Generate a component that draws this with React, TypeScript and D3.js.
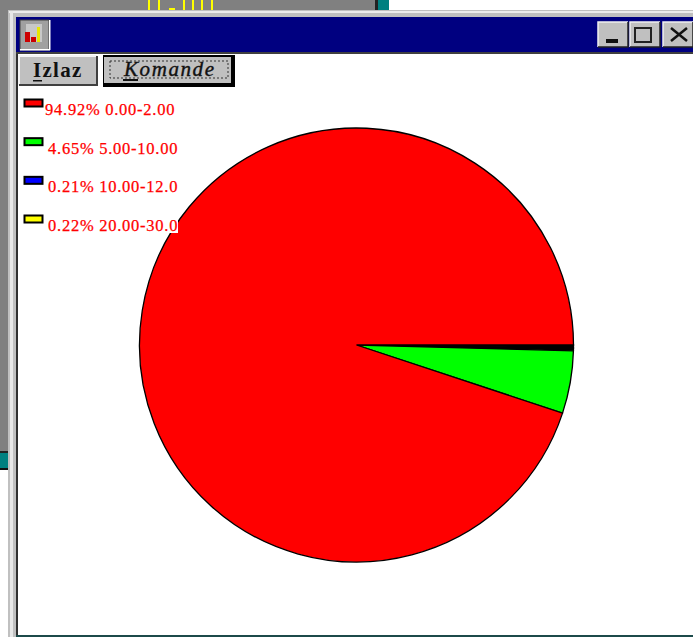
import React from "react";
import * as d3 from "d3";

const labels = ["94.92% 0.00-2.00", "4.65% 5.00-10.00", "0.21% 10.00-12.0", "0.22% 20.00-30.0"];
const shares = [94.92, 4.65, 0.21, 0.22];
const colors = ["#ff0000", "#00ff00", "#0000ff", "#ffff00"];
// The two thinnest slices are nothing but outline in the picture.
const sliceFills = ["#ff0000", "#00ff00", "#000000", "#000000"];
const legendTextX = [45, 48, 48, 48];
const legendRows = [0, 1, 2, 3];
const backgroundStripes = [149, 159, 184, 193, 202, 212];

const W = 693;
const H = 637;
const cx = 356.5;
const cy = 345;
const R = 217;

export default function App() {
  // Clockwise from 3 o'clock: yellow, blue, green, red.
  const total = d3.sum(shares);
  const angle = d3.scaleLinear().domain([0, total]).range([0, 2 * Math.PI]);
  const start = Math.PI / 2;
  const order = [3, 2, 1, 0];
  let acc = 0;
  const slices = order.map((i) => {
    const a0 = acc;
    acc += shares[i];
    return { i, a0: start + angle(a0), a1: start + angle(acc) };
  });
  const arc = d3.arc<any>().innerRadius(0).outerRadius(R);
  const legendY = d3.scaleLinear().domain([0, 3]).range([103, 219]);

  return (
    <svg
      width={W}
      height={H}
      viewBox={`0 0 ${W} ${H}`}
      style={{ position: "fixed", left: 0, top: 0, display: "block", background: "#fff" }}
    >
      {/* desktop behind the window */}
      <rect x={0} y={0} width={375} height={451} fill="#808080" />
      <rect x={375} y={0} width={3} height={12} fill="#222" />
      <rect x={378} y={0} width={11} height={12} fill="#008080" />
      <rect x={0} y={453} width={8} height={15} fill="#008080" />
      <rect x={0} y={451} width={8} height={2} fill="#222" />
      <rect x={0} y={468} width={8} height={2} fill="#111" />
      <g stroke="#ffff00" strokeWidth={2}>
        {backgroundStripes.map((x) => (
          <line key={x} x1={x} x2={x} y1={0} y2={10} />
        ))}
        <line x1={169} x2={175} y1={9} y2={9} />
      </g>

      {/* window frame */}
      <rect x={8} y={10} width={685} height={627} fill="#c0c0c0" />
      <rect x={9} y={11} width={684} height={2} fill="#ececec" />
      <rect x={10} y={11} width={3} height={626} fill="#e8e8e8" />
      <rect x={16} y={17} width={677} height={35} fill="#000080" />
      <rect x={16} y={52} width={677} height={2} fill="#404040" />
      <rect x={18} y={54} width={675} height={581} fill="#ffffff" />
      <rect x={16} y={54} width={2} height={583} fill="#303030" />
      <rect x={16} y={635} width={677} height={2} fill="#1c4a4a" />

      {/* title bar icon */}
      <rect x={20} y={20} width={29} height={30} fill="#a0a0a0" stroke="#404040" />
      <rect x={20} y={49} width={30} height={1.5} fill="#ffffff" />
      <rect x={49} y={20} width={1.5} height={30} fill="#ffffff" />
      <rect x={26} y={24} width={16} height={18} fill="#c8c8c8" />
      <rect x={25} y={32} width={5} height={10} fill="#cc0000" />
      <rect x={31} y={37} width={5} height={5} fill="#cc0000" />
      <rect x={37} y={27} width={3} height={15} fill="#e8e800" />

      {/* window buttons */}
      {[
        [598, 30],
        [630, 30],
        [663, 30],
      ].map(([x, w]) => (
        <g key={x}>
          <rect x={x} y={22} width={w} height={25} fill="#c0c0c0" />
          <path d={`M${x} 47V22H${x + w}`} fill="none" stroke="#f0f0f0" strokeWidth={1.5} />
          <path d={`M${x} 47H${x + w}V22`} fill="none" stroke="#202020" strokeWidth={1.5} />
        </g>
      ))}
      <rect x={606} y={39} width={12} height={4} fill="#111" />
      <rect x={635} y={28} width={16} height={14} fill="none" stroke="#222" strokeWidth={2} />
      <path d="M671 28L687 41M687 28L671 41" stroke="#111" strokeWidth={2.5} />

      {/* tool buttons */}
      <rect x={19} y={56} width={78} height={29} fill="#c0c0c0" />
      <path d="M19 85V56H97" fill="none" stroke="#f4f4f4" strokeWidth={2} />
      <path d="M19 85H97V56" fill="none" stroke="#404040" strokeWidth={2} />
      <text
        x={33}
        y={77}
        fontFamily="Liberation Serif"
        fontWeight={700}
        fontSize={21}
        letterSpacing={1.3}
        fill="#111"
      >
        Izlaz
      </text>
      <rect x={33} y={80} width={9} height={1.5} fill="#111" />
      <rect x={103} y={55} width={132} height={32} fill="#000" />
      <rect x={104} y={57} width={127} height={26} fill="#c0c0c0" />
      <rect x={110} y={61} width={118} height={17} fill="none" stroke="#333" strokeDasharray="2 2" />
      <text
        x={124}
        y={76}
        fontFamily="Liberation Serif"
        fontStyle="italic"
        fontSize={21}
        fill="#111"
        stroke="#111"
        strokeWidth={0.4}
        textLength={90}
      >
        Komande
      </text>
      <rect x={123} y={79} width={15} height={2} fill="#111" />

      {/* pie */}
      <g transform={`translate(${cx},${cy})`}>
        {slices.map((s) => (
          <path
            key={s.i}
            d={arc({ startAngle: s.a0, endAngle: s.a1 }) as string}
            fill={sliceFills[s.i]}
            stroke="#000"
            strokeWidth={1.3}
          />
        ))}
      </g>

      {/* legend, drawn over the pie's edge */}
      {legendRows.map((i) => (
        <g key={i}>
          <rect x={24.5} y={legendY(i) - 3.5} width={18} height={7} fill={colors[i]} stroke="#000" strokeWidth={2} />
          <rect x={legendTextX[i]} y={legendY(i) + 1} width={178 - legendTextX[i]} height={13} fill="#fff" />
          <text
            x={legendTextX[i]}
            y={legendY(i) + 12}
            fontFamily="Liberation Serif"
            fontSize={16.5}
            letterSpacing={0.75}
            fill="#ff0000"
            stroke="#ff0000"
            strokeWidth={0.25}
          >
            {labels[i]}
          </text>
        </g>
      ))}
    </svg>
  );
}
